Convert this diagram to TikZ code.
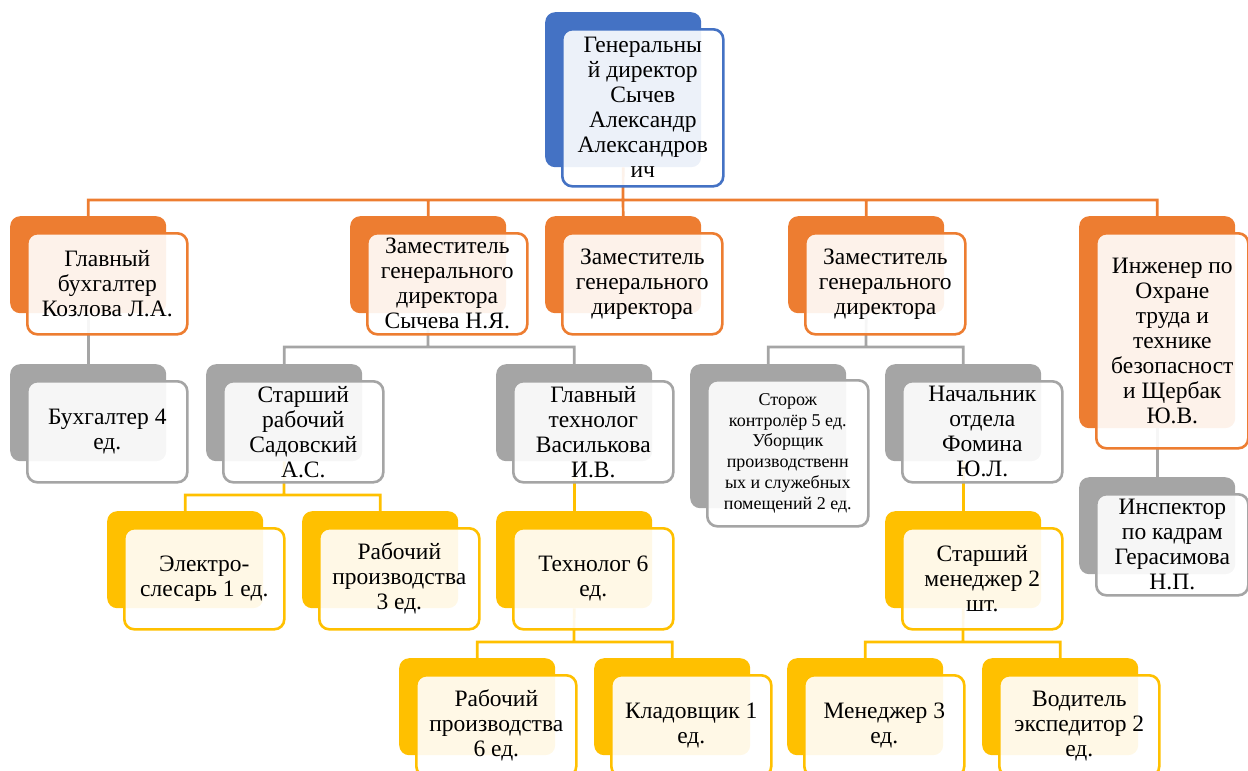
\documentclass[tikz,border=0pt]{standalone}
\usepackage{fontspec}
\setmainfont{Liberation Serif}
\definecolor{cblue}{HTML}{4472C4}
\definecolor{corange}{HTML}{ED7D31}
\definecolor{cgray}{HTML}{A5A5A5}
\definecolor{cyellow}{HTML}{FFC000}
\begin{document}
\begin{tikzpicture}[x=1pt, y=-1pt,
        back/.style={fill=#1, rounded corners=10pt, inner sep=0pt, anchor=north west, minimum width=156pt, minimum height=97pt},
        front/.style={draw=#1, line width=2.6pt, fill=white, fill opacity=0.9, text opacity=1, rounded corners=10pt, inner sep=0pt, anchor=north west, minimum width=160pt, minimum height=101pt, align=center, font=\fontsize{23.5}{25}\selectfont},
        link/.style={draw=#1, line width=2.7pt}]
        \useasboundingbox (0,0) rectangle (1248,771);

        % back plates
        \node[back=cblue, minimum height=155pt] (gd-b) at (545,12) {};
        \node[back=corange] (b1-b) at (10,216) {};
        \node[back=corange] (b2-b) at (350,216) {};
        \node[back=corange] (b3-b) at (545,216) {};
        \node[back=corange] (b4-b) at (788,216) {};
        \node[back=corange, minimum height=212pt] (b5-b) at (1079,216) {};
        \node[back=cgray] (c1-b) at (10,364) {};
        \node[back=cgray] (c2-b) at (206,364) {};
        \node[back=cgray] (c3-b) at (496,364) {};
        \node[back=cgray, minimum height=144pt] (c4-b) at (690,364) {};
        \node[back=cgray] (c5-b) at (885,364) {};
        \node[back=cgray] (c6-b) at (1079,477) {};
        \node[back=cyellow] (d1-b) at (107,511) {};
        \node[back=cyellow] (d2-b) at (302,511) {};
        \node[back=cyellow] (d3-b) at (496,511) {};
        \node[back=cyellow] (d4-b) at (885,511) {};
        \node[back=cyellow] (e1-b) at (399,658) {};
        \node[back=cyellow] (e2-b) at (594,658) {};
        \node[back=cyellow] (e3-b) at (787,658) {};
        \node[back=cyellow] (e4-b) at (982,658) {};

        % connectors
        \coordinate (bus0) at (623,200);
        \coordinate (bus2) at (428,347);
        \coordinate (bus4) at (866,347);
        \coordinate (busc2) at (284,495);
        \coordinate (busd3) at (574,642);
        \coordinate (busd4) at (963,642);
        \draw[link=corange] (gd-b.south) -- (bus0) (bus0) -| (b1-b.north) (bus0) -| (b2-b.north)
            (bus0) -- (b3-b.north) (bus0) -| (b4-b.north) (bus0) -| (b5-b.north);
        \draw[link=cgray] (b1-b.south) -- (c1-b.north);
        \draw[link=cgray] (b2-b.south) -- (bus2) (bus2) -| (c2-b.north) (bus2) -| (c3-b.north);
        \draw[link=cgray] (b4-b.south) -- (bus4) (bus4) -| (c4-b.north) (bus4) -| (c5-b.north);
        \draw[link=cgray] (b5-b.south) -- (c6-b.north);
        \draw[link=cyellow] (c2-b.south) -- (busc2) (busc2) -| (d1-b.north) (busc2) -| (d2-b.north);
        \draw[link=cyellow] (c3-b.south) -- (d3-b.north);
        \draw[link=cyellow] (c5-b.south) -- (d4-b.north);
        \draw[link=cyellow] (d3-b.south) -- (busd3) (busd3) -| (e1-b.north) (busd3) -| (e2-b.north);
        \draw[link=cyellow] (d4-b.south) -- (busd4) (busd4) -| (e3-b.north) (busd4) -| (e4-b.north);

        % front cards
        \node[front=cblue, minimum width=161pt, minimum height=157pt] (gd) at ([shift={(16,16)}]gd-b.north west)
            {Генеральны\\й директор\\Сычев\\Александр\\Александров\\ич};
        \node[front=corange] (b1) at ([shift={(16,16)}]b1-b.north west) {Главный\\бухгалтер\\Козлова Л.А.};
        \node[front=corange] (b2) at ([shift={(16,16)}]b2-b.north west) {Заместитель\\генерального\\директора\\Сычева Н.Я.};
        \node[front=corange] (b3) at ([shift={(16,16)}]b3-b.north west) {Заместитель\\генерального\\директора};
        \node[front=corange] (b4) at ([shift={(16,16)}]b4-b.north west) {Заместитель\\генерального\\директора};
        \node[front=corange, minimum width=152pt, minimum height=215pt] (b5) at ([shift={(16,16)}]b5-b.north west)
            {Инженер по\\Охране\\труда и\\технике\\безопасност\\и Щербак\\Ю.В.};
        \node[front=cgray] (c1) at ([shift={(16,16)}]c1-b.north west) {Бухгалтер 4\\ед.};
        \node[front=cgray] (c2) at ([shift={(16,16)}]c2-b.north west) {Старший\\рабочий\\Садовский\\А.С.};
        \node[front=cgray] (c3) at ([shift={(16,16)}]c3-b.north west) {Главный\\технолог\\Василькова\\И.В.};
        \node[front=cgray, minimum width=161pt, minimum height=146pt, font=\fontsize{18}{20.8}\selectfont] (c4) at ([shift={(16,15)}]c4-b.north west)
            {Сторож\\контролёр 5 ед.\\Уборщик\\производственн\\ых и служебных\\помещений 2 ед.};
        \node[front=cgray] (c5) at ([shift={(16,16)}]c5-b.north west) {Начальник\\отдела\\Фомина\\Ю.Л.};
        \node[front=cgray, minimum width=152pt] (c6) at ([shift={(16,16)}]c6-b.north west) {Инспектор\\по кадрам\\Герасимова\\Н.П.};
        \node[front=cyellow] (d1) at ([shift={(16,16)}]d1-b.north west) {Электро-\\слесарь 1 ед.};
        \node[front=cyellow] (d2) at ([shift={(16,16)}]d2-b.north west) {Рабочий\\производства\\3 ед.};
        \node[front=cyellow] (d3) at ([shift={(16,16)}]d3-b.north west) {Технолог 6\\ед.};
        \node[front=cyellow] (d4) at ([shift={(16,16)}]d4-b.north west) {Старший\\менеджер 2\\шт.};
        \node[front=cyellow] (e1) at ([shift={(16,16)}]e1-b.north west) {Рабочий\\производства\\6 ед.};
        \node[front=cyellow] (e2) at ([shift={(16,16)}]e2-b.north west) {Кладовщик 1\\ед.};
        \node[front=cyellow] (e3) at ([shift={(16,16)}]e3-b.north west) {Менеджер 3\\ед.};
        \node[front=cyellow] (e4) at ([shift={(16,16)}]e4-b.north west) {Водитель\\экспедитор 2\\ед.};
    \end{tikzpicture}
\end{document}
